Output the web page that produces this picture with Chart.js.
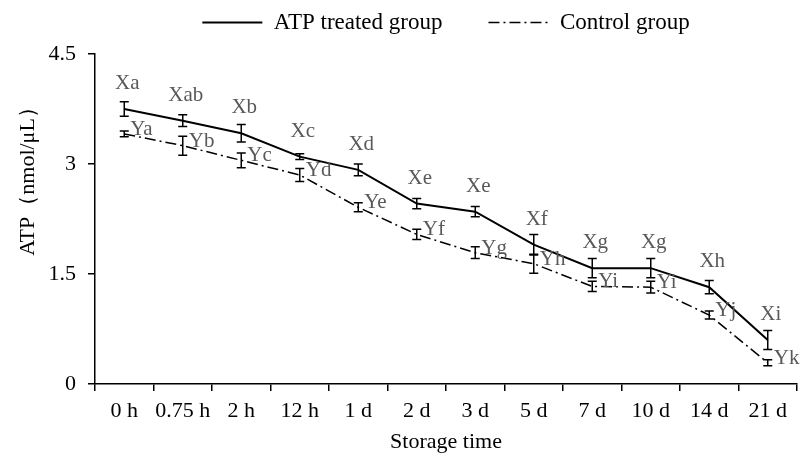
<!DOCTYPE html>
<html>
<head>
<meta charset="utf-8">
<script src="https://cdn.jsdelivr.net/npm/chart.js@4.4.1/dist/chart.umd.min.js"></script>
<style>
  html, body { margin: 0; padding: 0; background: #fff; }
  canvas { display: block; }
</style>
</head>
<body>
<canvas id="atpChart" width="805" height="459"></canvas>
<script>
// Values
const categories = ["0 h", "0.75 h", "2 h", "12 h", "1 d", "2 d", "3 d", "5 d", "7 d", "10 d", "14 d", "21 d"];
const atpValues = [3.75, 3.59, 3.42, 3.10, 2.92, 2.46, 2.35, 1.90, 1.58, 1.58, 1.32, 0.60];
const atpErrors = [0.10, 0.08, 0.12, 0.04, 0.08, 0.07, 0.07, 0.14, 0.13, 0.13, 0.09, 0.13];
const ctrlValues = [3.41, 3.25, 3.05, 2.85, 2.41, 2.04, 1.79, 1.64, 1.33, 1.32, 0.94, 0.29];
const ctrlErrors = [0.04, 0.13, 0.10, 0.09, 0.06, 0.07, 0.08, 0.13, 0.07, 0.08, 0.055, 0.04];
const atpLetters = ["Xa", "Xab", "Xb", "Xc", "Xd", "Xe", "Xe", "Xf", "Xg", "Xg", "Xh", "Xi"];
const ctrlLetters = ["Ya", "Yb", "Yc", "Yd", "Ye", "Yf", "Yg", "Yh", "Yi", "Yi", "Yj", "Yk"];
const yTicks = [0, 1.5, 3, 4.5];

const serif = "'Liberation Serif', 'Times New Roman', serif";
Chart.defaults.font.family = serif;
Chart.defaults.color = "#000";

// error bars + significance letters + y title
const annotate = {
    id: "annotate",
    afterLayout(chart) {
        // legend sits higher than the layout puts it (keep its bottom so it isn't clipped)
        chart.legend.top = -35;
    },
    afterDatasetsDraw(chart) {
        const ctx = chart.ctx;
        const y = chart.scales.y;
        const errs = [atpErrors, ctrlErrors];
        ctx.save();
        ctx.strokeStyle = "#000";
        ctx.lineWidth = 1.5;
        chart.data.datasets.forEach((ds, i) => {
            chart.getDatasetMeta(i).data.forEach((pt, j) => {
                const top = y.getPixelForValue(ds.data[j] + errs[i][j]);
                const bot = y.getPixelForValue(ds.data[j] - errs[i][j]);
                ctx.beginPath();
                ctx.moveTo(pt.x, top); ctx.lineTo(pt.x, bot);
                ctx.moveTo(pt.x - 4.5, top); ctx.lineTo(pt.x + 4.5, top);
                ctx.moveTo(pt.x - 4.5, bot); ctx.lineTo(pt.x + 4.5, bot);
                ctx.stroke();
            });
        });

        ctx.fillStyle = "#595959";
        ctx.font = "21px " + serif;
        ctx.textBaseline = "alphabetic";
        chart.getDatasetMeta(0).data.forEach((pt, j) => {
            ctx.textAlign = "center";
            ctx.fillText(atpLetters[j], pt.x + 3, pt.y - 20);
        });
        chart.getDatasetMeta(1).data.forEach((pt, j) => {
            ctx.textAlign = "left";
            ctx.fillText(ctrlLetters[j], pt.x + 6, pt.y + 1);
        });

        // y axis title
        ctx.fillStyle = "#000";
        ctx.font = "22px " + serif;
        ctx.translate(28, 176);
        ctx.rotate(-Math.PI / 2);
        ctx.textAlign = "center";
        ctx.textBaseline = "middle";
        ctx.fillText("ATP（nmol/μL）", 0, 0);
        ctx.restore();
    }
};

new Chart(document.getElementById("atpChart"), {
    type: "line",
    data: {
        labels: categories,
        datasets: [
            {
                label: "ATP treated group",
                data: atpValues,
                borderColor: "#000",
                backgroundColor: "#000",
                borderWidth: 2,
                pointRadius: 0,
                tension: 0,
            },
            {
                label: "Control group",
                data: ctrlValues,
                borderColor: "#000",
                backgroundColor: "#000",
                borderWidth: 1.5,
                borderDash: [11, 4, 2, 4],
                pointRadius: 0,
                tension: 0,
            },
        ],
    },
    options: {
        responsive: false,
        animation: false,
        layout: { padding: { left: 0, right: 8, top: 0, bottom: 0 } },
        plugins: {
            tooltip: { enabled: false },
            legend: {
                position: "top",
                fullSize: false,
                maxHeight: 54,
                labels: {
                    usePointStyle: true,
                    pointStyleWidth: 60,
                    padding: 46,
                    color: "#000",
                    font: { size: 23 },
                    generateLabels: (chart) => chart.data.datasets.map((ds, i) => ({
                        text: ds.label,
                        strokeStyle: ds.borderColor,
                        fillStyle: ds.borderColor,
                        lineWidth: ds.borderWidth,
                        lineDash: ds.borderDash || [],
                        pointStyle: "line",
                        fontColor: "#000",
                        datasetIndex: i,
                    })),
                },
            },
        },
        scales: {
            x: {
                offset: true,
                grid: { offset: true, drawOnChartArea: false, tickLength: 7, color: "#000", lineWidth: 1.5 },
                border: { color: "#000", width: 1.5 },
                ticks: { font: { size: 22 }, padding: 7, maxRotation: 0, autoSkip: false },
                title: { display: true, text: "Storage time", font: { size: 22 }, padding: { top: 0, bottom: 4 } },
                afterFit: (scale) => { scale.height = 75; },
            },
            y: {
                min: 0,
                max: 4.5,
                afterBuildTicks: (scale) => { scale.ticks = yTicks.map((v) => ({ value: v })); },
                grid: { drawOnChartArea: false, tickLength: 7, color: "#000", lineWidth: 1.5 },
                border: { color: "#000", width: 1.5 },
                ticks: { font: { size: 22 }, padding: 12, callback: (v) => String(v) },
                afterFit: (scale) => { scale.width = 95; },
            },
        },
    },
    plugins: [annotate],
});
</script>
</body>
</html>
